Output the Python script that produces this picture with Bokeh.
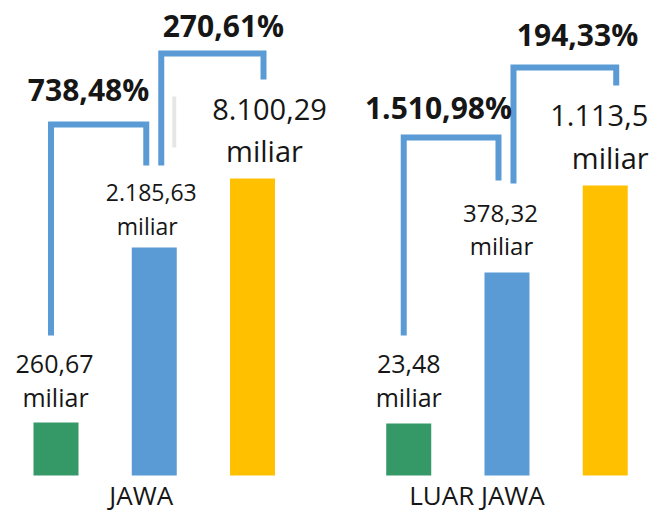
from bokeh.plotting import figure
from bokeh.models import Range1d, ColumnDataSource
from bokeh.core.properties import value
from bokeh.embed import file_html
from bokeh.resources import INLINE

# ---------------- data ----------------
regions = ["JAWA", "LUAR JAWA"]
series = ["Periode 1", "Periode 2", "Periode 3"]
values_jawa = [260.67, 2185.63, 8100.29]
values_luar_jawa = [23.48, 378.32, 1113.5]
growth_jawa = [738.48, 270.61]
growth_luar_jawa = [1510.98, 194.33]
# drawn bar heights (illustrative, not proportional to the values)
bar_height_jawa = [53, 228, 297]
bar_height_luar_jawa = [52, 203, 290]
unit_label = "miliar"

# ---------------- styles / layout ----------------
colors = ["#349966", "#5B9BD5", "#FFC000"]
connector_color = "#5B9BD5"
text_color = "#161616"
FONT = "Open Sans"

W, H = 650, 516
PX = 98.25          # pixels per x unit
BAR_STEP = 1.0
GROUP_STEP = 3.59
X0 = -0.565
BAR_W = 0.458


def fmt_id(v, dec=2):
    s = f"{v:,.{dec}f}"
    if "." in s:
        s = s.rstrip("0").rstrip(".")
    return s.replace(",", "X").replace(".", ",").replace("X", ".")


def bx(g, i):
    return g * GROUP_STEP + i * BAR_STEP


values = [values_jawa, values_luar_jawa]
growth = [growth_jawa, growth_luar_jawa]
heights = [bar_height_jawa, bar_height_luar_jawa]

p = figure(width=W, height=H, output_backend="svg", toolbar_location=None,
           x_range=Range1d(X0, X0 + W / PX), y_range=Range1d(-41, 475),
           x_axis_location=None, y_axis_location=None,
           min_border=0, outline_line_color=None)
p.grid.visible = False
p.background_fill_color = "white"
p.border_fill_color = "white"

# bars
for i in range(3):
    src = ColumnDataSource(dict(
        x=[bx(g, i) for g in range(2)],
        top=[heights[g][i] for g in range(2)],
    ))
    p.vbar(x="x", top="top", bottom=0, width=BAR_W, source=src,
           fill_color=colors[i], line_color=None)

# faint grey artifact near the first blue bar
p.segment(x0=[bx(0, 1) + 20 / PX], y0=[328], x1=[bx(0, 1) + 20 / PX], y1=[379],
          line_color="#e6e6e6", line_width=4)

# value labels: (dx number px, dy number, dx unit px, dy unit, font size)
label_layout = {
    (0, 0): (-1.5, 59, -0.5, 26, 25),
    (0, 1): (-3, 55, -7, 22, 23),
    (0, 2): (17, 69, 12, 28, 29),
    (1, 0): (0, 60, 0, 27, 25),
    (1, 1): (-6.5, 59, -5.5, 27, 24),
    (1, 2): (-6, 70, 5, 28, 29),
}
for (g, i), (dxn, dyn, dxu, dyu, fs) in label_layout.items():
    top = heights[g][i]
    p.text(x=[bx(g, i) + dxn / PX], y=[top + dyn], text=[fmt_id(values[g][i])],
           text_font=value(FONT), text_font_size=f"{fs}px",
           text_align="center", text_baseline="middle", text_color=text_color)
    p.text(x=[bx(g, i) + dxu / PX], y=[top + dyu], text=[unit_label],
           text_font=value(FONT), text_font_size=f"{fs}px",
           text_align="center", text_baseline="middle", text_color=text_color)

# growth brackets: (left dx px, right dx px, left rise, top level, right rise)
bracket_layout = {
    (0, 0): (-5, -8, 87, 351, 82),
    (0, 1): (7, 11, 82, 422, 99),
    (1, 0): (-5, -8.5, 88, 338, 92),
    (1, 1): (6.5, 11, 89, 408, 100),
}
xs, ys = [], []
for (g, k), (dl, dr, rl, tl, rr) in bracket_layout.items():
    xl = bx(g, k) + dl / PX
    xr = bx(g, k + 1) + dr / PX
    yl = heights[g][k] + rl
    yr = heights[g][k + 1] + rr
    xs.append([xl, xl, xr, xr])
    ys.append([yl, tl, tl, yr])
p.multi_line(xs=xs, ys=ys, line_color=connector_color, line_width=6,
             line_join="miter", line_cap="butt")

# growth labels: (dx px from bracket middle, dy above bracket top)
growth_layout = {
    (0, 0): (-16.6, 35),
    (0, 1): (20, 28),
    (1, 0): (-19.4, 30),
    (1, 1): (21.4, 33),
}
for (g, k), (dx, dy) in growth_layout.items():
    xm = (bx(g, k) + bx(g, k + 1)) / 2 + dx / PX
    tl = bracket_layout[(g, k)][3]
    p.text(x=[xm], y=[tl + dy], text=[fmt_id(growth[g][k]) + "%"],
           text_font=value(FONT), text_font_size="30px", text_font_style="bold",
           text_align="center", text_baseline="middle", text_color=text_color)

# region labels
cat_dx = [-13, -30]
for g, name in enumerate(regions):
    xc = bx(g, 1) + cat_dx[g] / PX
    p.text(x=[xc], y=[-19], text=[name], text_font=value(FONT),
           text_font_size="26px", text_align="center", text_baseline="middle",
           text_color=text_color)

open("out.html", "w").write(file_html(p, INLINE))
